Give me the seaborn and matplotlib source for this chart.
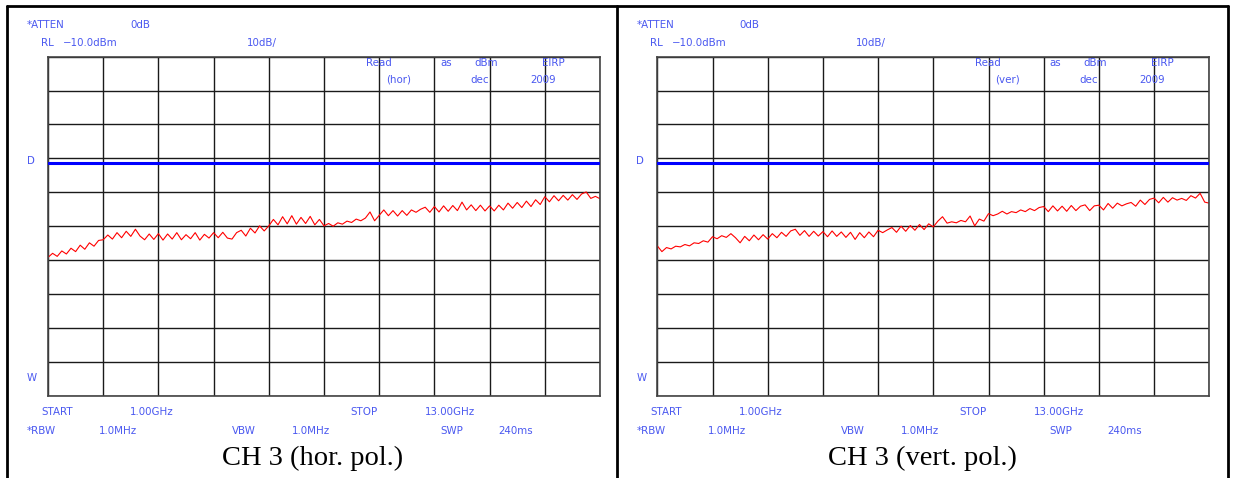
import matplotlib.pyplot as plt
import seaborn as sns
import pandas as pd
import numpy as np
from matplotlib.lines import Line2D

# Trace data (dBm), 1.0 .. 13.0 GHz in 0.1 GHz steps
freq_ghz = [round(1.0 + 0.1 * i, 1) for i in range(121)]

hor_dbm = [
    -69.2, -68.0, -68.9, -67.3, -68.2, -66.5, -67.5, -65.6, -66.8, -64.9, -65.9, -64.2,
    -64.0, -62.6, -63.8, -61.9, -63.4, -61.5, -63.0, -60.9, -62.9, -64.0, -62.3, -63.9,
    -62.2, -64.1, -62.3, -63.8, -61.9, -64.0, -62.5, -63.7, -61.9, -64.1, -62.4, -63.5,
    -61.9, -63.4, -61.8, -63.5, -63.8, -61.9, -61.2, -62.9, -60.6, -62.0, -59.9, -61.4,
    -59.9, -58.0, -59.6, -57.2, -59.3, -56.9, -59.4, -57.4, -59.2, -57.1, -59.6, -58.0,
    -59.9, -59.2, -60.0, -59.0, -59.4, -58.5, -58.9, -57.9, -58.4, -57.6, -55.8, -58.4,
    -56.8, -55.2, -56.9, -55.4, -57.0, -55.4, -56.8, -55.2, -55.9, -55.0, -54.4, -55.9,
    -54.2, -55.8, -54.0, -55.6, -53.9, -55.4, -52.9, -55.2, -53.7, -55.4, -53.8, -55.5,
    -54.0, -55.5, -53.8, -55.2, -53.2, -54.7, -53.0, -54.5, -52.6, -54.2, -52.2, -53.6,
    -51.3, -52.8, -51.0, -52.5, -50.9, -52.3, -50.7, -52.1, -50.5, -49.9, -51.8, -51.2,
    -51.9,
]

vert_dbm = [
    -65.8, -67.5, -66.3, -66.7, -65.9, -66.1, -65.4, -65.8, -64.9, -65.1, -64.3, -64.7,
    -63.1, -63.7, -62.8, -63.3, -62.2, -63.4, -64.9, -63.0, -64.3, -62.6, -64.0, -62.5,
    -63.8, -62.2, -63.4, -61.8, -63.0, -61.4, -60.9, -62.7, -61.3, -63.0, -61.5, -62.9,
    -61.6, -63.1, -61.4, -63.0, -61.7, -63.3, -61.8, -63.9, -61.9, -63.4, -61.7, -63.1,
    -61.2, -61.9, -61.1, -60.4, -61.8, -60.0, -61.5, -59.8, -61.2, -59.5, -61.0, -59.3,
    -60.2, -58.5, -57.2, -59.1, -58.7, -59.0, -58.3, -58.7, -57.0, -59.9, -57.9, -58.5,
    -56.3, -56.9, -56.4, -55.6, -56.4, -55.7, -56.0, -55.2, -55.7, -54.8, -55.4, -54.5,
    -54.2, -55.7, -54.0, -55.5, -54.1, -55.6, -53.9, -55.4, -54.1, -53.7, -55.4, -54.0,
    -53.8, -55.2, -53.3, -54.7, -53.2, -54.0, -53.4, -53.0, -54.1, -52.3, -53.6, -52.1,
    -51.7, -53.1, -51.5, -52.9, -51.6, -52.3, -51.8, -52.4, -51.0, -51.7, -50.3, -52.9,
    -53.2,
]

display_line = -41.5   # blue "D" line
ref_level = -10.0
db_per_div = 10
captions = ['CH 3 (hor. pol.)', 'CH 3 (vert. pol.)']
pol_labels = ['(hor)', '(ver)']

df = pd.DataFrame({'Freq': freq_ghz * 2,
                   'Level': hor_dbm + vert_dbm,
                   'Pol': ['hor'] * 121 + ['vert'] * 121})

sns.set_style('white')
plt.rcParams['font.family'] = ['DejaVu Sans']

W, H = 1233, 478
fig = plt.figure(figsize=(W / 100, H / 100), dpi=100)

blue_txt = '#4a58f0'


def ftxt(x, y, s, **kw):
    kw.setdefault('color', blue_txt)
    kw.setdefault('fontsize', 7.4)
    kw.setdefault('va', 'center')
    kw.setdefault('ha', 'left')
    fig.text(x / W, 1 - y / H, s, **kw)


# outer table lines
for x in (7, 617, 1228):
    fig.add_artist(Line2D([x / W, x / W], [0, 1 - 6 / H], color='black', lw=2.0,
                          transform=fig.transFigure))
fig.add_artist(Line2D([7 / W, 1228 / W], [1 - 6 / H, 1 - 6 / H], color='black', lw=2.0,
                      transform=fig.transFigure))

for i, pol in enumerate(['hor', 'vert']):
    dx = i * 609.3
    ax = fig.add_axes([(48 + dx) / W, (H - 395.7) / H, 552 / W, 339 / H])
    sub = df[df['Pol'] == pol]
    sns.lineplot(data=sub, x='Freq', y='Level', color='#ff0000', lw=0.8, ax=ax)
    ax.axhline(display_line, color='#0000ff', lw=2.2, zorder=3)
    ax.set_xlim(1, 13)
    ax.set_ylim(ref_level - 10 * db_per_div, ref_level)
    ax.set_xticks(np.linspace(1, 13, 11))
    ax.set_yticks(np.linspace(ref_level - 10 * db_per_div, ref_level, 11))
    ax.grid(True, color='#1a1a1a', lw=1.0)
    ax.tick_params(length=0, labelbottom=False, labelleft=False)
    ax.set_xlabel('')
    ax.set_ylabel('')
    for s in ax.spines.values():
        s.set_color('#444444')
        s.set_linewidth(1.2)

    # analyzer annotations
    ftxt(27 + dx, 25, '*ATTEN')
    ftxt(130 + dx, 25, '0dB')
    ftxt(41 + dx, 43, 'RL')
    ftxt(63 + dx, 43, '\u221210.0dBm')
    ftxt(247 + dx, 43, '10dB/')
    ftxt(366 + dx, 63, 'Read')
    ftxt(440 + dx, 63, 'as')
    ftxt(474 + dx, 63, 'dBm')
    ftxt(542 + dx, 63, 'EIRP')
    ftxt(386 + dx, 80, pol_labels[i])
    ftxt(470 + dx, 80, 'dec')
    ftxt(530 + dx, 80, '2009')
    ftxt(27 + dx, 161, 'D')
    ftxt(27 + dx, 378, 'W')
    ftxt(41 + dx, 412, 'START')
    ftxt(130 + dx, 412, '1.00GHz')
    ftxt(350 + dx, 412, 'STOP')
    ftxt(425 + dx, 412, '13.00GHz')
    ftxt(27 + dx, 431, '*RBW')
    ftxt(99 + dx, 431, '1.0MHz')
    ftxt(232 + dx, 431, 'VBW')
    ftxt(292 + dx, 431, '1.0MHz')
    ftxt(440 + dx, 431, 'SWP')
    ftxt(498 + dx, 431, '240ms')
    ftxt(313 + dx, 458, captions[i], color='black', fontsize=20.5, ha='center',
         family=['Liberation Serif', 'DejaVu Serif'])

fig.savefig('out.png', dpi=100)
